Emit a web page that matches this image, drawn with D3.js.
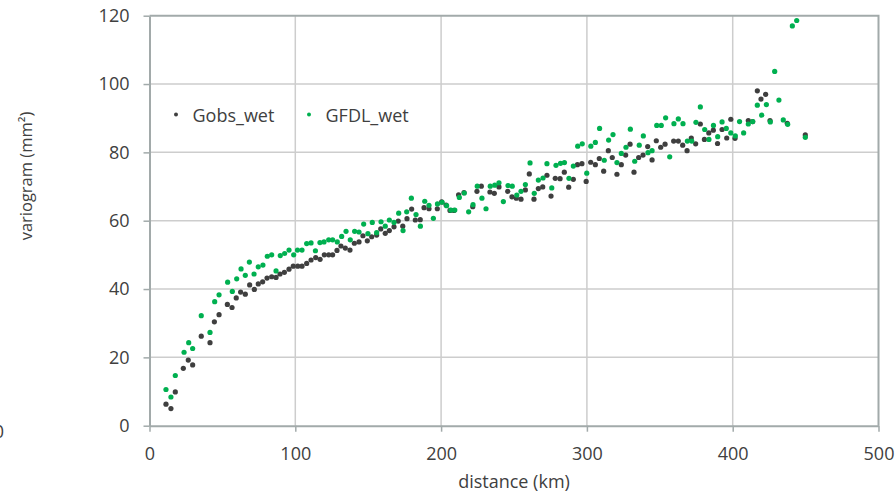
<!DOCTYPE html>
<html>
<head>
<meta charset="utf-8">
<script src="https://cdn.jsdelivr.net/npm/d3@7"></script>
<style>
  html, body { margin: 0; padding: 0; background: #fff; }
  svg { display: block; font-family: "Open Sans", "Liberation Sans", sans-serif; }
</style>
</head>
<body>
<div id="chart"></div>
<script>
// variogram vs distance, two series of [distance km, variogram mm²]
const gobsWet = [
  [11.3, 6.3], [14.7, 5.0], [17.7, 9.9], [23.2, 16.8], [26.6, 19.2], [29.6, 17.8],
  [35.5, 26.2], [41.5, 24.3], [44.5, 30.4], [47.7, 32.5], [53.4, 35.5], [56.6, 34.6],
  [59.5, 37.4], [62.5, 39.1], [65.7, 38.5], [68.7, 41.2], [71.9, 39.9], [74.6, 41.5],
  [77.6, 42.1], [80.6, 43.2], [83.8, 43.6], [86.8, 43.4], [89.5, 44.4], [92.5, 44.9],
  [95.7, 45.8], [98.6, 46.7], [101.7, 46.7], [104.6, 46.7], [107.8, 47.5], [110.8, 48.5],
  [114.0, 49.2], [117.0, 48.7], [119.9, 50.0], [122.9, 50.0], [125.6, 50.0], [128.6, 51.3],
  [131.3, 52.6], [134.3, 52.0], [137.5, 51.4], [140.5, 53.4], [143.7, 53.8], [146.4, 55.6],
  [149.4, 54.1], [152.4, 55.3], [155.8, 55.8], [158.6, 57.6], [161.7, 56.3], [164.5, 57.1],
  [167.7, 58.2], [170.6, 59.9], [173.7, 58.4], [176.6, 60.6], [179.8, 63.4], [182.3, 60.2],
  [185.7, 60.3], [188.3, 63.8], [191.7, 63.5], [197.4, 63.5], [200.4, 65.5], [203.4, 64.6],
  [206.1, 63.0], [208.8, 63.0], [212.0, 67.6], [215.7, 68.2], [221.7, 64.1], [224.6, 68.6],
  [227.6, 70.1], [233.5, 68.4], [236.5, 68.0], [239.7, 69.9], [245.7, 68.6], [248.6, 67.0],
  [251.6, 66.6], [254.8, 66.3], [257.8, 69.0], [260.5, 73.7], [263.7, 66.3], [266.7, 69.4],
  [269.7, 69.9], [272.6, 73.3], [275.4, 67.2], [278.3, 72.4], [281.6, 72.3], [284.5, 74.2],
  [287.5, 69.8], [290.7, 72.1], [293.5, 76.4], [296.6, 76.7], [299.5, 71.5], [302.6, 77.1],
  [305.8, 76.4], [308.5, 78.2], [311.5, 74.5], [314.7, 80.5], [317.4, 78.5], [320.6, 73.6],
  [323.6, 76.4], [326.6, 79.2], [329.6, 82.4], [332.3, 74.2], [335.5, 78.5], [338.5, 79.2],
  [341.7, 81.7], [344.7, 77.8], [347.6, 83.4], [350.6, 81.5], [353.6, 82.4], [359.5, 83.3],
  [362.7, 83.3], [365.7, 82.1], [368.7, 80.5], [371.6, 84.2], [374.6, 82.5], [377.8, 88.3],
  [380.6, 83.8], [383.6, 85.7], [386.7, 86.5], [389.6, 82.6], [392.7, 86.7], [395.9, 84.2],
  [398.7, 89.7], [401.6, 84.1], [410.7, 89.3], [413.7, 89.0], [416.9, 98.0], [419.4, 95.6],
  [422.6, 97.0], [425.6, 89.3], [437.4, 88.5], [449.8, 85.1]
];

const gfdlWet = [
  [11.3, 10.6], [14.7, 8.4], [17.7, 14.7], [23.7, 21.5], [26.9, 24.3], [29.6, 22.6],
  [35.5, 32.2], [41.5, 27.3], [44.7, 36.3], [47.7, 38.3], [53.6, 42.0], [56.8, 39.3],
  [59.8, 43.0], [62.8, 45.9], [65.7, 44.0], [68.5, 47.9], [71.7, 44.4], [74.6, 46.5],
  [77.8, 47.0], [80.8, 49.6], [83.8, 50.0], [86.8, 45.3], [89.7, 49.8], [92.7, 50.4],
  [95.7, 51.4], [98.9, 50.0], [101.5, 51.4], [104.6, 51.4], [107.8, 53.3], [110.8, 53.5],
  [113.8, 51.2], [116.9, 53.6], [119.7, 53.8], [122.9, 54.4], [125.6, 54.4], [128.8, 53.8],
  [131.8, 55.4], [134.8, 56.9], [137.7, 54.4], [140.7, 56.9], [143.7, 56.7], [146.9, 59.0],
  [149.8, 56.2], [152.8, 59.5], [155.8, 56.5], [158.8, 59.7], [161.7, 58.4], [164.5, 60.2],
  [167.7, 59.5], [170.9, 62.2], [173.9, 57.1], [176.4, 62.6], [179.6, 66.6], [182.8, 61.8],
  [185.8, 58.4], [188.8, 65.7], [191.7, 64.5], [194.7, 60.7], [197.5, 64.9], [200.7, 65.4],
  [203.8, 64.4], [206.7, 63.1], [209.4, 63.1], [212.5, 66.8], [215.9, 68.1], [218.9, 62.6],
  [221.9, 64.7], [224.8, 70.1], [228.0, 66.6], [230.8, 63.5], [233.7, 70.1], [236.8, 70.4],
  [239.7, 71.1], [242.7, 65.6], [245.9, 70.3], [248.8, 70.1], [251.9, 67.5], [254.8, 68.6],
  [257.8, 70.6], [261.0, 76.9], [263.9, 68.0], [266.7, 71.9], [269.9, 72.5], [272.6, 76.7],
  [275.9, 69.6], [278.8, 76.2], [281.9, 76.8], [284.6, 77.0], [287.7, 72.4], [290.7, 76.0],
  [293.7, 81.8], [296.8, 82.5], [299.9, 73.9], [302.7, 81.8], [305.8, 82.9], [308.7, 87.0],
  [311.9, 77.7], [314.9, 83.6], [317.9, 85.2], [320.6, 77.0], [323.6, 79.7], [326.8, 81.5],
  [329.8, 86.8], [332.8, 77.4], [335.9, 82.1], [338.7, 84.8], [341.9, 79.9], [344.7, 80.5],
  [347.9, 87.9], [351.0, 87.9], [354.0, 90.1], [356.8, 78.7], [359.7, 88.4], [362.7, 89.8],
  [365.9, 88.4], [368.9, 83.3], [371.9, 83.3], [374.8, 88.8], [377.8, 93.3], [380.8, 86.7],
  [383.7, 83.8], [386.8, 87.9], [389.7, 84.6], [392.7, 88.9], [395.6, 87.0], [398.7, 85.7],
  [401.8, 84.8], [404.7, 89.0], [407.5, 85.7], [410.7, 88.3], [413.7, 89.0], [416.9, 93.8],
  [419.9, 90.9], [423.1, 94.0], [425.8, 88.9], [428.8, 103.7], [431.7, 95.3], [434.7, 89.5],
  [437.7, 88.2], [440.9, 117.0], [443.9, 118.6], [449.8, 84.4]
];

const xTicks = [0, 100, 200, 300, 400, 500];
const yTicks = [0, 20, 40, 60, 80, 100, 120];
const seriesNames = ["Gobs_wet", "GFDL_wet"];

const width = 895, height = 494;
const textColor = "#404040";
const axisColor = "#a2aaaa";
const gridColor = "#cdcdcd";
const colors = ["#3f3f3f", "#00b050"];

const svg = d3.select("#chart").append("svg")
  .attr("width", width)
  .attr("height", height);

const x = d3.scaleLinear().domain([0, 500]).range([149.5, 878.5]);
const y = d3.scaleLinear().domain([0, 120]).range([425.7, 15.7]);

// gridlines
svg.append("g").selectAll("line.h")
  .data(yTicks.filter(d => d > 0 && d < 120))
  .join("line")
  .attr("x1", x(0)).attr("x2", x(500))
  .attr("y1", d => y(d)).attr("y2", d => y(d))
  .attr("stroke", gridColor).attr("stroke-width", 1.5);

svg.append("g").selectAll("line.v")
  .data(xTicks.filter(d => d > 0 && d < 500))
  .join("line")
  .attr("x1", d => x(d)).attr("x2", d => x(d))
  .attr("y1", y(0)).attr("y2", y(120))
  .attr("stroke", gridColor).attr("stroke-width", 1.5);

// top and right border of plot area
svg.append("path")
  .attr("d", `M${x(0)},${y(120)}H${x(500)}V${y(0)}`)
  .attr("fill", "none")
  .attr("stroke", axisColor)
  .attr("stroke-width", 2);

// axes
const yAxis = svg.append("g")
  .attr("transform", `translate(${x(0)},0)`)
  .call(d3.axisLeft(y).tickValues(yTicks).tickSizeInner(6).tickSizeOuter(0).tickPadding(14));

const xAxis = svg.append("g")
  .attr("transform", `translate(0,${y(0)})`)
  .call(d3.axisBottom(x).tickValues(xTicks).tickSizeInner(6).tickSizeOuter(0).tickPadding(16));

[yAxis, xAxis].forEach(g => {
  g.select(".domain").attr("stroke", axisColor).attr("stroke-width", 2);
  g.selectAll(".tick line").attr("stroke", axisColor).attr("stroke-width", 1.5);
  g.selectAll(".tick text")
    .attr("fill", textColor)
    .style("font-size", "18px")
    .style("font-family", "'Open Sans', sans-serif");
});

// points
const series = [gobsWet, gfdlWet];
series.forEach((data, i) => {
  svg.append("g").selectAll("circle")
    .data(data)
    .join("circle")
    .attr("cx", d => x(d[0]))
    .attr("cy", d => y(d[1]))
    .attr("r", 2.6)
    .attr("fill", colors[i]);
});

// axis titles
svg.append("text")
  .attr("x", (x(0) + x(500)) / 2)
  .attr("y", 481)
  .attr("text-anchor", "middle")
  .attr("dominant-baseline", "central")
  .attr("fill", textColor)
  .style("font-size", "18px")
  .text("distance (km)");

svg.append("text")
  .attr("transform", "translate(25,176) rotate(-90)")
  .attr("text-anchor", "middle")
  .attr("dominant-baseline", "central")
  .attr("fill", textColor)
  .style("font-size", "16.5px")
  .text("variogram (mm²)");

// legend
const legendX = [176, 309];
seriesNames.forEach((name, i) => {
  svg.append("circle")
    .attr("cx", legendX[i])
    .attr("cy", 114.5)
    .attr("r", 2)
    .attr("fill", colors[i]);
  svg.append("text")
    .attr("x", legendX[i] + 16.5)
    .attr("y", 114.5)
    .attr("dominant-baseline", "central")
    .attr("fill", textColor)
    .style("font-size", "18px")
    .text(name);
});

// stray tick label cut at the left edge (as in the reference)
svg.append("text")
  .attr("x", 4)
  .attr("y", 431)
  .attr("text-anchor", "end")
  .attr("dominant-baseline", "central")
  .attr("fill", textColor)
  .style("font-size", "18px")
  .text("0");
</script>
</body>
</html>
